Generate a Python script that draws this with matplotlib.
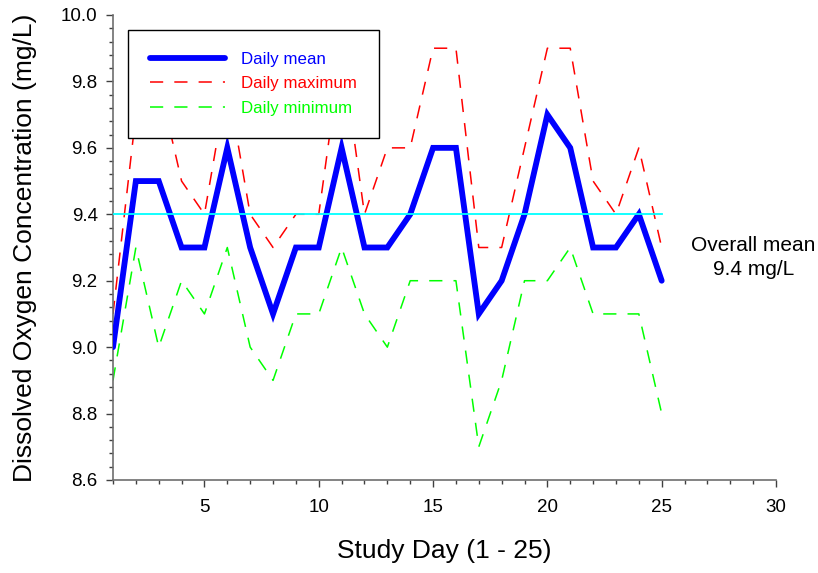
import matplotlib
matplotlib.use("Agg")
import matplotlib.pyplot as plt
from matplotlib.ticker import MultipleLocator, FixedLocator, FormatStrFormatter

plt.rcParams['font.family'] = ['Liberation Sans', 'DejaVu Sans']
plt.rcParams['lines.scale_dashes'] = False

days = list(range(1, 26))
daily_mean = [9.0, 9.5, 9.5, 9.3, 9.3, 9.6, 9.3, 9.1, 9.3, 9.3, 9.6, 9.3, 9.3,
              9.4, 9.6, 9.6, 9.1, 9.2, 9.4, 9.7, 9.6, 9.3, 9.3, 9.4, 9.2]
daily_max = [9.1, 9.7, 9.8, 9.5, 9.4, 9.8, 9.4, 9.3, 9.4, 9.4, 9.9, 9.4, 9.6,
             9.6, 9.9, 9.9, 9.3, 9.3, 9.6, 9.9, 9.9, 9.5, 9.4, 9.6, 9.3]
daily_min = [8.9, 9.3, 9.0, 9.2, 9.1, 9.3, 9.0, 8.9, 9.1, 9.1, 9.3, 9.1, 9.0,
             9.2, 9.2, 9.2, 8.7, 8.9, 9.2, 9.2, 9.3, 9.1, 9.1, 9.1, 8.8]
overall_mean = 9.4

fig = plt.figure(figsize=(8.18, 5.73), dpi=100)
ax = fig.add_axes([113/818, 1-480/573, (776-113)/818, (480-15)/573])

ax.plot(days, daily_mean, color='#0000FF', lw=4.2, solid_joinstyle='miter',
        solid_capstyle='round', label='Daily mean', zorder=3)
ax.plot(days, daily_max, color='#FF0000', lw=1.1, dashes=[9.5, 8],
        label='Daily maximum', zorder=2)
ax.plot(days, daily_min, color='#00FF00', lw=1.1, dashes=[9.5, 8],
        label='Daily minimum', zorder=2)
ax.plot([days[0], days[-1]], [overall_mean, overall_mean], color='#00FFFF',
        lw=1.3, zorder=4)

ax.set_xlim(1, 30)
ax.set_ylim(8.6, 10.0)
ax.xaxis.set_major_locator(FixedLocator([5, 10, 15, 20, 25, 30]))
ax.xaxis.set_minor_locator(MultipleLocator(1))
ax.yaxis.set_major_locator(MultipleLocator(0.2))
ax.yaxis.set_minor_locator(MultipleLocator(0.04))
ax.yaxis.set_major_formatter(FormatStrFormatter('%.1f'))

for s in ['top', 'right']:
    ax.spines[s].set_visible(False)
for s in ['left', 'bottom']:
    ax.spines[s].set_color('#6e6e6e')
    ax.spines[s].set_linewidth(1.2)
ax.tick_params(which='major', direction='out', length=5, width=1.0,
               color='#404040', labelsize=13.5, pad=6)
ax.tick_params(which='minor', direction='out', length=2.8, width=1.0,
               color='#404040')
ax.tick_params(axis='x', which='major', pad=9)

ax.set_xlabel('Study Day (1 - 25)', fontsize=19, labelpad=16)
ax.set_ylabel('Dissolved Oxygen Concentration (mg/L)', fontsize=19,
              labelpad=17)

leg = ax.legend(loc='upper left', bbox_to_anchor=(128/818, 1-30/573),
                bbox_transform=fig.transFigure, fontsize=12.2, handlelength=4.4,
                handletextpad=0.95, borderpad=1.3, labelspacing=0.55,
                borderaxespad=0, fancybox=False, framealpha=1,
                edgecolor='black', labelcolor='linecolor')
leg.get_frame().set_linewidth(1.0)
leg.set_zorder(5)

ax.text(29.0, 9.27, 'Overall mean\n9.4 mg/L', ha='center', va='center',
        fontsize=15, linespacing=1.3, clip_on=False)

fig.savefig('out.png', dpi=100)
